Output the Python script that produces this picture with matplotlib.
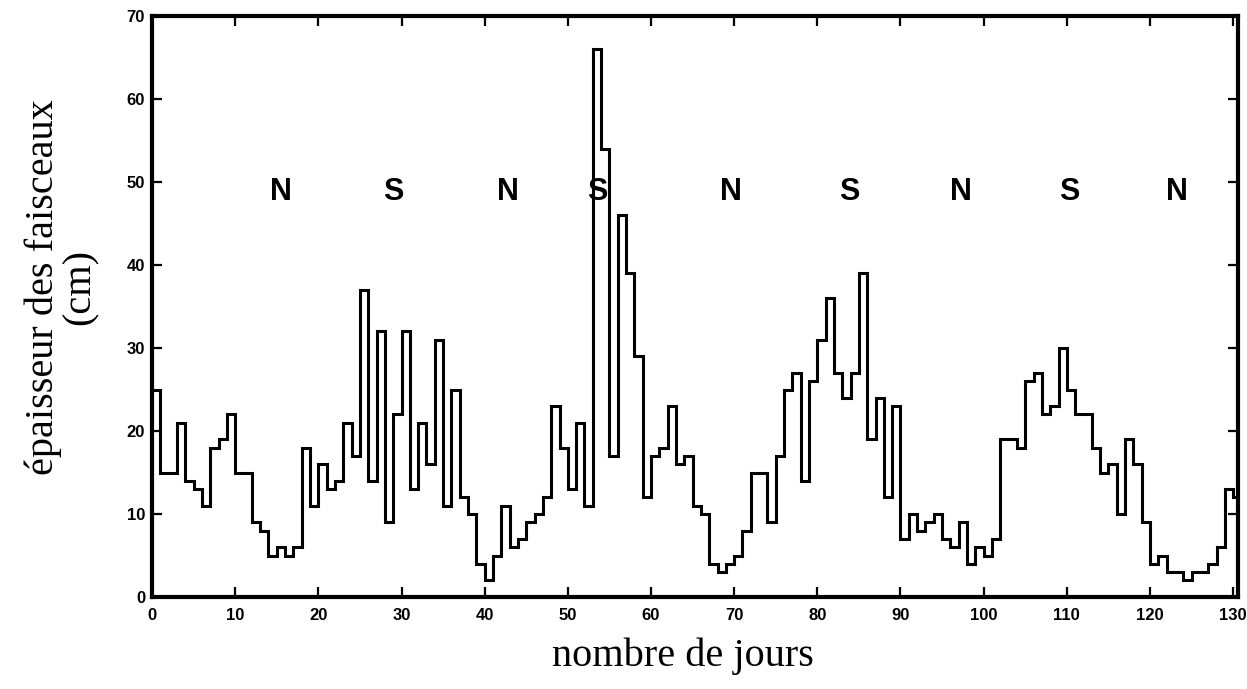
import numpy as np
import matplotlib
matplotlib.use('Agg')
import matplotlib.pyplot as plt

# epaisseur des faisceaux (cm) per day, days 0..130
days = np.arange(0, 132)
thickness = [
    25, 15, 15, 21, 14, 13, 11, 18, 19, 22,
    15, 15, 9, 8, 5, 6, 5, 6, 18, 11,
    16, 13, 14, 21, 17, 37, 14, 32, 9, 22,
    32, 13, 21, 16, 31, 11, 25, 12, 10, 4,
    2, 5, 11, 6, 7, 9, 10, 12, 23, 18,
    13, 21, 11, 66, 54, 17, 46, 39, 29, 12,
    17, 18, 23, 16, 17, 11, 10, 4, 3, 4,
    5, 8, 15, 15, 9, 17, 25, 27, 14, 26,
    31, 36, 27, 24, 27, 39, 19, 24, 12, 23,
    7, 10, 8, 9, 10, 7, 6, 9, 4, 6,
    5, 7, 19, 19, 18, 26, 27, 22, 23, 30,
    25, 22, 22, 18, 15, 16, 10, 19, 16, 9,
    4, 5, 3, 3, 2, 3, 3, 4, 6, 13,
    12,
]

phase_labels = ['N', 'S', 'N', 'S', 'N', 'S', 'N', 'S', 'N']
phase_x = [15.5, 29, 42.8, 53.6, 69.6, 83.8, 97.3, 110.3, 123.3]
phase_y = 48.8

xticks = np.arange(0, 131, 10)
yticks = np.arange(0, 71, 10)

fig = plt.figure(figsize=(12.47, 6.89), dpi=100)
ax = fig.add_axes([0.1219, 0.1335, 0.871, 0.843])

ax.stairs(thickness, days, baseline=None, color='black', linewidth=2.2)

for lab, x in zip(phase_labels, phase_x):
    ax.text(x, phase_y, lab, ha='center', va='center', fontsize=22,
            fontweight='bold', family='Liberation Sans')

ax.set_xlim(0, 130.6)
ax.set_ylim(0, 70)
ax.set_xticks(xticks)
ax.set_yticks(yticks)
ax.tick_params(direction='in', top=True, right=True, length=7, width=1.6)
ax.tick_params(axis='x', pad=8)
ax.tick_params(axis='y', pad=5)
for lbl in ax.get_xticklabels() + ax.get_yticklabels():
    lbl.set_fontfamily('Liberation Sans')
    lbl.set_fontweight('bold')
    lbl.set_fontsize(12)
for sp in ax.spines.values():
    sp.set_linewidth(3.0)

ax.text(-0.083, 0.533, 'épaisseur des faisceaux\n(cm)', transform=ax.transAxes,
        rotation=90, ha='center', va='center', multialignment='center',
        family='Liberation Serif', fontsize=29, linespacing=1.0)
fig.text(0.548, 0.047, 'nombre de jours', ha='center', va='center',
         family='Liberation Serif', fontsize=29)

fig.savefig('out.png', dpi=100)
